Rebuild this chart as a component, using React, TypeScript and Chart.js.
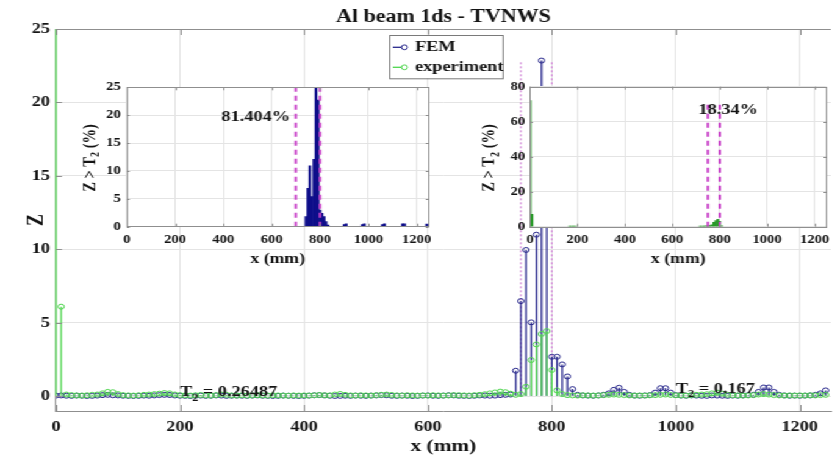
import React, { useEffect, useRef } from "react";
import { Chart, registerables } from "chart.js";

Chart.register(...registerables);

const SERIF = "'Liberation Serif', 'Times New Roman', 'DejaVu Serif', serif";
const STRETCH = 1.22;
const CW = 686;
const CH = 459;

// ---------- text ----------
const TITLE = "Al beam 1ds - TVNWS";
const X_TITLE = "x (mm)";
const Y_TITLE = "Z";
const INSET_Y_TITLE = { main: "Z > T", sub: "2", tail: " (%)" };
const SERIES_NAMES = ["FEM", "experiment"];

// ---------- data ----------
const POSITIONS_MM = [
  0, 8.3, 16.7, 25, 33.3, 41.7, 50, 58.3, 66.7, 75, 83.3, 91.7,
  100, 108.3, 116.7, 125, 133.3, 141.7, 150, 158.3, 166.7, 175, 183.3, 191.7,
  200, 208.3, 216.7, 225, 233.3, 241.7, 250, 258.3, 266.7, 275, 283.3, 291.7,
  300, 308.3, 316.7, 325, 333.3, 341.7, 350, 358.3, 366.7, 375, 383.3, 391.7,
  400, 408.3, 416.7, 425, 433.3, 441.7, 450, 458.3, 466.7, 475, 483.3, 491.7,
  500, 508.3, 516.7, 525, 533.3, 541.7, 550, 558.3, 566.7, 575, 583.3, 591.7,
  600, 608.3, 616.7, 625, 633.3, 641.7, 650, 658.3, 666.7, 675, 683.3, 691.7,
  700, 708.3, 716.7, 725, 733.3, 741.7, 750, 758.3, 766.7, 775, 783.3, 791.7,
  800, 808.3, 816.7, 825, 833.3, 841.7, 850, 858.3, 866.7, 875, 883.3, 891.7,
  900, 908.3, 916.7, 925, 933.3, 941.7, 950, 958.3, 966.7, 975, 983.3, 991.7,
  1000, 1008.3, 1016.7, 1025, 1033.3, 1041.7, 1050, 1058.3, 1066.7, 1075, 1083.3, 1091.7,
  1100, 1108.3, 1116.7, 1125, 1133.3, 1141.7, 1150, 1158.3, 1166.7, 1175, 1183.3, 1191.7,
  1200, 1208.3, 1216.7, 1225, 1233.3, 1241.7,
];

const FEM_Z = [
  0.05, 0.06, 0.04, 0.03, 0.05, 0.04, 0.02, 0.03, 0.05, 0.08, 0.1, 0.07,
  0.06, 0.04, 0.03, 0.02, 0.03, 0.05, 0.04, 0.06, 0.08, 0.1, 0.09, 0.06,
  0.04, 0.03, 0.02, 0.04, 0.05, 0.03, 0.04, 0.06, 0.05, 0.03, 0.04, 0.05,
  0.04, 0.03, 0.05, 0.06, 0.04, 0.03, 0.02, 0.03, 0.05, 0.04, 0.03, 0.02,
  0.03, 0.05, 0.07, 0.08, 0.06, 0.04, 0.02, 0.03, 0.04, 0.03, 0.05, 0.04,
  0.03, 0.05, 0.06, 0.08, 0.07, 0.04, 0.03, 0.05, 0.04, 0.02, 0.03, 0.05,
  0.06, 0.04, 0.03, 0.05, 0.07, 0.06, 0.04, 0.03, 0.02, 0.04, 0.06, 0.05,
  0.04, 0.05, 0.08, 0.1, 0.12, 1.74, 6.48, 9.96, 5.03, 11.0, 22.85, 16.0,
  2.69, 2.69, 2.17, 1.35, 0.49, 0.1, 0.06, 0.05, 0.04, 0.06, 0.1, 0.2,
  0.44, 0.58, 0.3, 0.1, 0.05, 0.04, 0.06, 0.08, 0.25, 0.55, 0.55, 0.25,
  0.08, 0.05, 0.04, 0.06, 0.05, 0.04, 0.03, 0.06, 0.05, 0.04, 0.03, 0.05,
  0.04, 0.06, 0.08, 0.1, 0.3, 0.6, 0.6, 0.3, 0.1, 0.06, 0.04, 0.05,
  0.04, 0.05, 0.06, 0.1, 0.2, 0.4,
];

const EXP_Z = [
  30, 6.1, 0.12, 0.08, 0.06, 0.05, 0.07, 0.1, 0.12, 0.2, 0.3, 0.28,
  0.15, 0.08, 0.06, 0.05, 0.07, 0.1, 0.12, 0.15, 0.18, 0.22, 0.2, 0.12,
  0.08, 0.06, 0.05, 0.07, 0.09, 0.06, 0.05, 0.08, 0.12, 0.1, 0.06, 0.05,
  0.07, 0.05, 0.06, 0.08, 0.06, 0.05, 0.07, 0.06, 0.05, 0.04, 0.06, 0.05,
  0.06, 0.05, 0.07, 0.09, 0.07, 0.06, 0.12, 0.16, 0.1, 0.06, 0.05, 0.07,
  0.06, 0.05, 0.08, 0.1, 0.12, 0.09, 0.06, 0.05, 0.07, 0.06, 0.05, 0.06,
  0.05, 0.07, 0.06, 0.05, 0.06, 0.08, 0.07, 0.06, 0.05, 0.07, 0.1, 0.14,
  0.2, 0.26, 0.32, 0.28, 0.18, 0.1, 0.15, 0.65, 2.47, 3.53, 4.24, 4.44,
  1.79, 0.4, 0.15, 0.08, 0.06, 0.05, 0.07, 0.06, 0.05, 0.06, 0.08, 0.1,
  0.12, 0.1, 0.08, 0.06, 0.05, 0.06, 0.05, 0.07, 0.08, 0.1, 0.12, 0.09,
  0.07, 0.06, 0.05, 0.08, 0.1, 0.12, 0.14, 0.2, 0.25, 0.18, 0.1, 0.07,
  0.06, 0.05, 0.06, 0.08, 0.12, 0.15, 0.12, 0.08, 0.06, 0.05, 0.06, 0.05,
  0.06, 0.05, 0.07, 0.06, 0.08, 0.1,
];

const MAIN_X_TICKS = [0, 200, 400, 600, 800, 1000, 1200];
const MAIN_Y_TICKS = [0, 5, 10, 15, 20, 25];
const INSET_X_TICKS = [0, 200, 400, 600, 800, 1000, 1200];
const INSET1_Y_TICKS = [0, 5, 10, 15, 20, 25];
const INSET2_Y_TICKS = [0, 20, 40, 60, 80];

const FEM_BOUNDS_MM = [750, 800];
const FEM_BOUND_TOP = 22.85;

const T2_LABELS = [
  { value: "0.26487", x: 200, y: 0.0 },
  { value: "0.167", x: 1000, y: 0.25 },
];

// inset 1: FEM exceedance histogram
const INSET1_POS = [741.7, 750, 758.3, 766.7, 775, 783.3, 791.7, 800, 808.3, 816.7, 825, 833.3, 900, 908.3, 975, 983.3, 1058.3, 1066.7, 1141.7, 1150, 1241.7];
const INSET1_PCT = [1.8, 6.9, 10.9, 5.4, 12.1, 30, 22.7, 3, 2.4, 1.8, 0.9, 0.3, 0.4, 0.5, 0.4, 0.5, 0.4, 0.5, 0.5, 0.5, 0.45];
const INSET1_BOUNDS = [700, 800];
const INSET1_BOUND_TOP = 30;
const INSET1_LABEL = { text: "81.404%", x: 676, y: 19.7 };

// inset 2: experiment exceedance histogram
const INSET2_POS = [0, 8.3, 166.7, 175, 183.3, 191.7, 716.7, 725, 733.3, 741.7, 750, 758.3, 766.7, 775, 783.3, 791.7, 800, 808.3];
const INSET2_PCT = [72, 7, 0.3, 0.4, 0.4, 0.3, 0.3, 0.4, 0.4, 0.5, 0.5, 0.6, 1.0, 2.5, 3.5, 4.2, 3.0, 0.5];
const INSET2_BOUNDS = [750, 800];
const INSET2_BOUND_TOP = 72;
const INSET2_LABEL = { text: "18.34%", x: 710, y: 66.5 };

// ---------- style ----------
const NAVY = "#27278c";
const GREEN = "#4fd64f";
const INSET_NAVY = "#0e0e8a";
const INSET_GREEN = "#2a9a2a";
const MAGENTA = "#c83fc8";
const MAGENTA_LIGHT = "#d28ad8";
const GRID = "#e4e4e4";
const AXIS = "#8f8f8f";
const TEXT = "#141414";

const pts = (xs: number[], ys: number[]) => xs.map((x, i) => ({ x, y: ys[i] }));
const fixedTicks = (vals: number[]) => (s: any) => {
  s.ticks = vals.map((v) => ({ value: v }));
};

function drawInwardTicks(ctx: any, a: any, xs: any, ys: any, xVals: number[], yVals: number[], len: number, top: boolean, right: boolean) {
  ctx.save();
  ctx.strokeStyle = AXIS;
  ctx.lineWidth = 1;
  ctx.beginPath();
  for (const v of xVals) {
    const p = Math.round(xs.getPixelForValue(v)) + 0.5;
    ctx.moveTo(p, a.bottom);
    ctx.lineTo(p, a.bottom - len);
    if (top) {
      ctx.moveTo(p, a.top);
      ctx.lineTo(p, a.top + len);
    }
  }
  const hl = len / STRETCH;
  for (const v of yVals) {
    const p = Math.round(ys.getPixelForValue(v)) + 0.5;
    ctx.moveTo(a.left, p);
    ctx.lineTo(a.left + hl, p);
    if (right) {
      ctx.moveTo(a.right, p);
      ctx.lineTo(a.right - hl, p);
    }
  }
  ctx.stroke();
  ctx.restore();
}

function drawSubText(ctx: any, x: number, y: number, main: string, sub: string, tail: string, size: number, subSize: number, align: "left" | "center") {
  ctx.font = `bold ${size}px ${SERIF}`;
  const w1 = ctx.measureText(main).width;
  const w3 = ctx.measureText(tail).width;
  ctx.font = `bold ${subSize}px ${SERIF}`;
  const w2 = ctx.measureText(sub).width;
  const total = w1 + w2 + w3;
  const sx = align === "center" ? x - total / 2 : x;
  ctx.textAlign = "left";
  ctx.font = `bold ${size}px ${SERIF}`;
  ctx.fillText(main, sx, y);
  ctx.font = `bold ${subSize}px ${SERIF}`;
  ctx.fillText(sub, sx + w1, y + size * 0.3);
  ctx.font = `bold ${size}px ${SERIF}`;
  ctx.fillText(tail, sx + w1 + w2, y);
}

const mainDecor = {
  id: "mainDecor",
  beforeDraw(chart: any) {
    const { ctx } = chart;
    ctx.save();
    ctx.fillStyle = "#ffffff";
    ctx.fillRect(0, 0, chart.width, chart.height);
    ctx.restore();
  },
  afterDraw(chart: any) {
    const { ctx, chartArea: a, scales } = chart;
    const xs = scales.x;
    const ys = scales.y;
    ctx.save();
    // top frame line
    ctx.strokeStyle = AXIS;
    ctx.lineWidth = 1;
    ctx.beginPath();
    ctx.moveTo(a.left, Math.round(a.top) + 0.5);
    ctx.lineTo(a.right, Math.round(a.top) + 0.5);
    ctx.stroke();
    drawInwardTicks(ctx, a, xs, ys, MAIN_X_TICKS, MAIN_Y_TICKS, 6, true, false);

    ctx.fillStyle = TEXT;
    // title
    ctx.font = `bold 18px ${SERIF}`;
    ctx.textAlign = "center";
    ctx.textBaseline = "alphabetic";
    ctx.fillText(TITLE, (a.left + a.right) / 2, 21.5);
    // x title
    ctx.font = `bold 17.5px ${SERIF}`;
    ctx.textBaseline = "middle";
    ctx.fillText(X_TITLE, (a.left + a.right) / 2, 446);
    // y title
    ctx.save();
    ctx.translate(30, (a.top + a.bottom) / 2);
    ctx.rotate(-Math.PI / 2);
    ctx.font = `bold 18px ${SERIF}`;
    ctx.textAlign = "center";
    ctx.textBaseline = "middle";
    ctx.fillText(Y_TITLE, 0, 0);
    ctx.restore();

    // T2 annotations
    ctx.textBaseline = "alphabetic";
    for (const lab of T2_LABELS) {
      const px = xs.getPixelForValue(lab.x);
      const py = ys.getPixelForValue(lab.y);
      drawSubText(ctx, px, py, "T", "2", " = " + lab.value, 15, 10, "left");
    }

    // legend
    const L = { left: 319.1, top: 34.7, w: 92.9, h: 43.3 };
    ctx.fillStyle = "#ffffff";
    ctx.fillRect(L.left, L.top, L.w, L.h);
    ctx.strokeStyle = "#7a7a7a";
    ctx.lineWidth = 1;
    ctx.strokeRect(Math.round(L.left) + 0.5, Math.round(L.top) + 0.5, L.w, L.h);
    const rows = [
      { name: SERIES_NAMES[0], color: NAVY, y: 47.3 },
      { name: SERIES_NAMES[1], color: GREEN, y: 67.3 },
    ];
    for (const r of rows) {
      ctx.strokeStyle = r.color;
      ctx.lineWidth = 1.3;
      ctx.beginPath();
      ctx.moveTo(322, r.y);
      ctx.lineTo(331, r.y);
      ctx.stroke();
      ctx.beginPath();
      ctx.lineWidth = 1;
      ctx.arc(331.5, r.y, 2.4, 0, Math.PI * 2);
      ctx.fillStyle = "#ffffff";
      ctx.fill();
      ctx.stroke();
      ctx.fillStyle = TEXT;
      ctx.font = `bold 15px ${SERIF}`;
      ctx.textAlign = "left";
      ctx.textBaseline = "middle";
      ctx.fillText(r.name, 340.2, r.y);
    }
    ctx.restore();
  },
};

function makeInsetDecor(titleX: number, label: { text: string; x: number; y: number }, align: "left" | "right", yTicks: number[]) {
  return {
    id: "insetDecor",
    beforeDraw(chart: any) {
      const { ctx, chartArea: a } = chart;
      ctx.save();
      ctx.fillStyle = "#ffffff";
      ctx.fillRect(a.left, a.top, a.right - a.left, a.bottom - a.top);
      ctx.restore();
    },
    afterDraw(chart: any) {
      const { ctx, chartArea: a, scales } = chart;
      const xs = scales.x;
      const ys = scales.y;
      ctx.save();
      ctx.strokeStyle = AXIS;
      ctx.lineWidth = 1;
      ctx.strokeRect(Math.round(a.left) + 0.5, Math.round(a.top) + 0.5, Math.round(a.right - a.left), Math.round(a.bottom - a.top));
      drawInwardTicks(ctx, a, xs, ys, INSET_X_TICKS, yTicks, 3, true, true);

      ctx.fillStyle = TEXT;
      // x title
      ctx.font = `bold 14.5px ${SERIF}`;
      ctx.textAlign = "center";
      ctx.textBaseline = "middle";
      ctx.fillText(X_TITLE, (a.left + a.right) / 2, 259);
      // y title
      ctx.save();
      ctx.translate(titleX, 158);
      ctx.rotate(-Math.PI / 2);
      ctx.textBaseline = "middle";
      drawSubText(ctx, 0, 0, INSET_Y_TITLE.main, INSET_Y_TITLE.sub, INSET_Y_TITLE.tail, 14.5, 10, "center");
      ctx.restore();
      // percentage label
      ctx.font = `bold 15px ${SERIF}`;
      ctx.textAlign = align;
      ctx.textBaseline = "middle";
      ctx.fillText(label.text, xs.getPixelForValue(label.x), ys.getPixelForValue(label.y));
      ctx.restore();
    },
  };
}

const tickFont = (size: number) => ({ family: SERIF, size, weight: "bold" as const });

function buildMain(canvas: HTMLCanvasElement) {
  return new Chart(canvas, {
    type: "bar",
    data: {
      datasets: [
        {
          type: "line",
          label: SERIES_NAMES[1] + " markers",
          data: pts(POSITIONS_MM, EXP_Z),
          showLine: false,
          pointStyle: "circle",
          pointRadius: 2.5,
          pointBorderWidth: 1,
          pointBorderColor: GREEN,
          pointBackgroundColor: "rgba(255,255,255,0)",
          order: 0,
        } as any,
        {
          type: "bar",
          label: SERIES_NAMES[1],
          data: pts(POSITIONS_MM, EXP_Z),
          backgroundColor: GREEN,
          borderWidth: 0,
          grouped: false,
          maxBarThickness: 1.3,
          clip: { left: 3, top: 0, right: 0, bottom: 0 },
          order: 1,
        } as any,
        {
          type: "line",
          label: SERIES_NAMES[0] + " markers",
          data: pts(POSITIONS_MM, FEM_Z),
          showLine: false,
          pointStyle: "circle",
          pointRadius: 2.5,
          pointBorderWidth: 1,
          pointBorderColor: NAVY,
          pointBackgroundColor: "rgba(255,255,255,0)",
          order: 2,
        } as any,
        {
          type: "bar",
          label: SERIES_NAMES[0],
          data: pts(POSITIONS_MM, FEM_Z),
          backgroundColor: NAVY,
          borderWidth: 0,
          grouped: false,
          maxBarThickness: 1.3,
          order: 3,
        } as any,
        ...FEM_BOUNDS_MM.map((b) => ({
          type: "line",
          data: [
            { x: b, y: 0 },
            { x: b, y: FEM_BOUND_TOP },
          ],
          borderColor: MAGENTA_LIGHT,
          borderWidth: 1.3,
          borderDash: [2, 2],
          pointRadius: 0,
          order: 4,
        })) as any,
      ],
    },
    options: {
      responsive: false,
      animation: false,
      events: [],
      layout: { padding: { left: 0, right: 0, top: 29, bottom: 0 } },
      plugins: { legend: { display: false }, tooltip: { enabled: false }, title: { display: false } },
      scales: {
        x: {
          type: "linear",
          min: 0,
          max: 1250,
          offset: false,
          afterBuildTicks: fixedTicks(MAIN_X_TICKS),
          afterFit: (s: any) => {
            s.height = 48;
          },
          grid: { color: GRID, drawTicks: false, offset: false },
          border: { display: true, color: AXIS },
          ticks: { font: tickFont(15), color: TEXT, padding: 7, maxRotation: 0, autoSkip: false, callback: (v: any) => String(v) },
        },
        y: {
          type: "linear",
          min: -1,
          max: 25,
          afterBuildTicks: fixedTicks(MAIN_Y_TICKS),
          afterFit: (s: any) => {
            s.width = 45.9;
          },
          grid: { color: GRID, drawTicks: false },
          border: { display: true, color: AXIS },
          ticks: { font: tickFont(15), color: TEXT, padding: 5, callback: (v: any) => String(v) },
        },
      },
    } as any,
    plugins: [mainDecor],
  });
}

function buildInset(
  canvas: HTMLCanvasElement,
  cfg: {
    padding: { left: number; right: number; top: number; bottom: number };
    pos: number[];
    pct: number[];
    color: string;
    bounds: number[];
    boundTop: number;
    yMax: number;
    yTicks: number[];
    yPad: number;
    titleX: number;
    label: { text: string; x: number; y: number };
    align: "left" | "right";
  }
) {
  return new Chart(canvas, {
    type: "bar",
    data: {
      datasets: [
        ...cfg.bounds.map((b) => ({
          type: "line",
          data: [
            { x: b, y: 0 },
            { x: b, y: cfg.boundTop },
          ],
          borderColor: MAGENTA,
          borderWidth: 2,
          borderDash: [5, 4],
          pointRadius: 0,
          order: 0,
        })) as any,
        {
          type: "bar",
          data: pts(cfg.pos, cfg.pct),
          backgroundColor: cfg.color,
          borderWidth: 0,
          barPercentage: 1,
          categoryPercentage: 1,
          order: 1,
        } as any,
      ],
    },
    options: {
      responsive: false,
      animation: false,
      events: [],
      layout: { padding: cfg.padding },
      plugins: { legend: { display: false }, tooltip: { enabled: false }, title: { display: false } },
      scales: {
        x: {
          type: "linear",
          min: 0,
          max: 1250,
          offset: false,
          afterBuildTicks: fixedTicks(INSET_X_TICKS),
          afterFit: (s: any) => {
            s.height = 30;
          },
          grid: { color: GRID, drawTicks: false, offset: false },
          border: { display: false },
          ticks: { font: tickFont(12), color: TEXT, padding: 6, maxRotation: 0, autoSkip: false, callback: (v: any) => String(v) },
        },
        y: {
          type: "linear",
          min: 0,
          max: cfg.yMax,
          afterBuildTicks: fixedTicks(cfg.yTicks),
          afterFit: (s: any) => {
            s.width = 30;
          },
          grid: { color: GRID, drawTicks: false },
          border: { display: false },
          ticks: { font: tickFont(12), color: TEXT, padding: cfg.yPad, callback: (v: any) => String(v) },
        },
      },
    } as any,
    plugins: [makeInsetDecor(cfg.titleX, cfg.label, cfg.align, cfg.yTicks)],
  });
}

export default function App() {
  const mainRef = useRef<HTMLCanvasElement | null>(null);
  const in1Ref = useRef<HTMLCanvasElement | null>(null);
  const in2Ref = useRef<HTMLCanvasElement | null>(null);

  useEffect(() => {
    Chart.defaults.font.family = SERIF;
    const charts: Chart[] = [];
    if (mainRef.current) charts.push(buildMain(mainRef.current));
    if (in1Ref.current)
      charts.push(
        buildInset(in1Ref.current, {
          padding: { left: 73.9, right: 334.6, top: 87.3, bottom: 202.3 },
          pos: INSET1_POS,
          pct: INSET1_PCT,
          color: INSET_NAVY,
          bounds: INSET1_BOUNDS,
          boundTop: INSET1_BOUND_TOP,
          yMax: 25,
          yTicks: INSET1_Y_TICKS,
          yPad: 5,
          titleX: 74,
          label: INSET1_LABEL,
          align: "right",
        })
      );
    if (in2Ref.current)
      charts.push(
        buildInset(in2Ref.current, {
          padding: { left: 404.4, right: 6.2, top: 86.7, bottom: 202.3 },
          pos: INSET2_POS,
          pct: INSET2_PCT,
          color: INSET_GREEN,
          bounds: INSET2_BOUNDS,
          boundTop: INSET2_BOUND_TOP,
          yMax: 80,
          yTicks: INSET2_Y_TICKS,
          yPad: 4,
          titleX: 401.6,
          label: INSET2_LABEL,
          align: "left",
        })
      );
    return () => {
      charts.forEach((c) => c.destroy());
    };
  }, []);

  const canvasStyle: React.CSSProperties = { position: "absolute", left: 0, top: 0, width: CW, height: CH };
  return (
    <div
      style={{
        position: "fixed",
        left: 0,
        top: 0,
        width: CW,
        height: CH,
        background: "#ffffff",
        transform: `scaleX(${STRETCH})`,
        transformOrigin: "0 0",
        overflow: "hidden",
      }}
    >
      <canvas ref={mainRef} width={CW} height={CH} style={canvasStyle} />
      <canvas ref={in1Ref} width={CW} height={CH} style={canvasStyle} />
      <canvas ref={in2Ref} width={CW} height={CH} style={canvasStyle} />
    </div>
  );
}
